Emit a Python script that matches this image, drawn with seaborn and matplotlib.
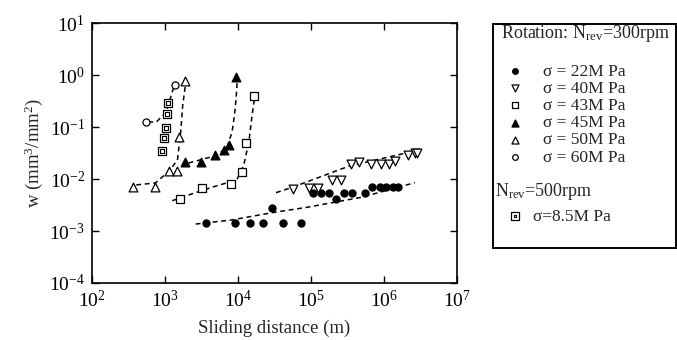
import matplotlib
matplotlib.use("Agg")
import matplotlib.pyplot as plt
import seaborn as sns
import pandas as pd
from matplotlib.patches import Rectangle
from matplotlib.ticker import NullLocator, LogLocator
from matplotlib.legend_handler import HandlerTuple

# ---------------- data ----------------
# Rotation N_rev = 300 rpm
s22_x = [3640, 9180, 14600, 22000, 29500, 40700, 74000, 105000, 137000, 174000,
         220000, 281000, 361000, 541000, 690000, 869000, 1080000, 1330000, 1550000]
s22_y = [1.4e-3, 1.4e-3, 1.4e-3, 1.4e-3, 2.8e-3, 1.4e-3, 1.4e-3, 5.5e-3, 5.5e-3, 5.5e-3,
         4.1e-3, 5.5e-3, 5.5e-3, 5.5e-3, 6.9e-3, 6.9e-3, 6.9e-3, 6.9e-3, 6.9e-3]

s40_x = [56900, 92500, 123000, 194000, 258000, 354000, 451000, 668000, 897000,
         1170000, 1430000, 2130000, 2640000, 2790000]
s40_y = [6.3e-3, 6.6e-3, 6.6e-3, 9.6e-3, 9.6e-3, 1.94e-2, 2.15e-2, 1.94e-2, 1.94e-2,
         1.94e-2, 2.2e-2, 2.9e-2, 3.1e-2, 3.2e-2]

s43_x = [1580, 3170, 8090, 11300, 12700, 16500]
s43_y = [4.07e-3, 6.7e-3, 8.0e-3, 1.36e-2, 4.9e-2, 0.40]

s45_x = [1850, 3080, 4790, 6370, 7640, 9530]
s45_y = [2.09e-2, 2.09e-2, 2.93e-2, 3.56e-2, 4.5e-2, 0.90]

s50_x = [367, 738, 1140, 1480, 1550, 1880]
s50_y = [7.0e-3, 7.0e-3, 1.41e-2, 1.41e-2, 6.5e-2, 0.78]

s60_x = [542, 1380]
s60_y = [0.123, 0.64]

# N_rev = 500 rpm
s85_x = [920, 973, 1023, 1054, 1089]
s85_y = [0.0345, 0.061, 0.097, 0.175, 0.286]

# dashed trend curves
f22_x = [2630, 8220, 29200, 88700, 491000, 2640000]
f22_y = [1.36e-3, 1.63e-3, 2.25e-3, 2.86e-3, 4.45e-3, 8.5e-3]
f40_x = [33200, 55100, 336000, 2640000]
f40_y = [5.46e-3, 6.9e-3, 1.78e-2, 3.45e-2]
f43_x = [1260, 2460, 4650, 9610, 12000, 14100, 15600, 17300]
f43_y = [3.83e-3, 5.31e-3, 7.1e-3, 9.6e-3, 1.86e-2, 5.2e-2, 0.17, 0.47]
f45_x = [2100, 4790, 7020, 8300, 8950, 9420, 9720]
f45_y = [2.03e-2, 2.77e-2, 3.94e-2, 8.1e-2, 0.17, 0.356, 0.70]
f50_x = [404, 738, 1150, 1480, 1640, 1750, 1890]
f50_y = [7.7e-3, 8.4e-3, 1.43e-2, 2.32e-2, 8.0e-2, 0.265, 0.59]
f60_x = [590, 762, 1045, 1220, 1330]
f60_y = [0.125, 0.125, 0.194, 0.41, 0.61]

labels_300 = ["σ = 22M Pa", "σ = 40M Pa", "σ = 43M Pa",
              "σ = 45M Pa", "σ = 50M Pa", "σ = 60M Pa"]
label_500 = "σ=8.5M Pa"
title_300 = "Rotation: N$_{\\mathrm{rev}}$=300rpm"
title_500 = "N$_{\\mathrm{rev}}$=500rpm"
x_label = "Sliding distance (m)"
y_label = "w (mm$^{3}$/mm$^{2}$)"

# ---------------- style ----------------
sns.set_style("ticks")
plt.rcParams["font.family"] = ["Liberation Serif", "DejaVu Serif"]
plt.rcParams["mathtext.fontset"] = "custom"
plt.rcParams["mathtext.rm"] = "Liberation Serif"
plt.rcParams["mathtext.it"] = "Liberation Serif:italic"
plt.rcParams["mathtext.default"] = "regular"

W, H = 677, 340
fig = plt.figure(figsize=(W / 100, H / 100), dpi=100)
ax = fig.add_axes([92 / W, 1 - 283 / H, (457 - 92) / W, (283 - 23) / H])
ax.set_xscale("log")
ax.set_yscale("log")

dash = (0, (3.2, 2.4))
for fx, fy in [(f22_x, f22_y), (f40_x, f40_y), (f43_x, f43_y),
               (f45_x, f45_y), (f50_x, f50_y), (f60_x, f60_y)]:
    sns.lineplot(x=fx, y=fy, ax=ax, color="black", lw=1.1, sort=False,
                 estimator=None, linestyle=dash, zorder=2)

specs = [
    (s22_x, s22_y, "o", 26, "black"),
    (s40_x, s40_y, "v", 40, "white"),
    (s43_x, s43_y, "s", 26, "white"),
    (s45_x, s45_y, "^", 40, "black"),
    (s50_x, s50_y, "^", 40, "white"),
    (s60_x, s60_y, "o", 26, "white"),
]
handles = []
for (sx, sy, m, s, fc), lab in zip(specs, labels_300):
    sns.scatterplot(x=sx, y=sy, ax=ax, marker=m, s=s, color=fc,
                    edgecolor="black", linewidth=0.9, zorder=3)
    handles.append(ax.collections[-1])

sns.scatterplot(x=s85_x, y=s85_y, ax=ax, marker="s", s=40, color="white",
                edgecolor="black", linewidth=0.9, zorder=3)
outer = ax.collections[-1]
sns.scatterplot(x=s85_x, y=s85_y, ax=ax, marker="s", s=7, color="white",
                edgecolor="black", linewidth=0.8, zorder=4)
inner = ax.collections[-1]

ax.set_xlim(1e2, 1e7)
ax.set_ylim(1e-4, 1e1)
ax.xaxis.set_major_locator(LogLocator(base=10, numticks=10))
ax.yaxis.set_major_locator(LogLocator(base=10, numticks=10))
ax.xaxis.set_minor_locator(NullLocator())
ax.yaxis.set_minor_locator(NullLocator())
for sp in ax.spines.values():
    sp.set_visible(True)
    sp.set_linewidth(1.2)
    sp.set_color("black")
ax.tick_params(which="major", direction="in", top=True, right=True,
               length=5, width=1.0, labelsize=14, colors="black")
ax.tick_params(axis="x", pad=5)
ax.tick_params(axis="y", pad=5)

ax.set_xlabel(x_label, fontsize=13.5)
ax.set_ylabel(y_label, fontsize=13.5)
ax.xaxis.set_label_coords(0.5, -0.142)
ax.yaxis.set_label_coords(-0.13, 0.5)

# ---------------- legend ----------------
fs = 12.5
fig.add_artist(Rectangle((493 / W, 1 - 248 / H), (676 - 493) / W, (248 - 24) / H,
                         transform=fig.transFigure, fill=False, lw=1.4,
                         ec="black"))
fig.text(501 / W, 1 - 34 / H, title_300, fontsize=13, ha="left", va="center")
leg1 = fig.legend(handles, labels_300, loc="upper left",
                  bbox_to_anchor=(503 / W, 1 - 63.5 / H),
                  bbox_transform=fig.transFigure, frameon=False, fontsize=fs,
                  borderpad=0, borderaxespad=0, handlelength=1.38,
                  handletextpad=0.92, labelspacing=0.06, markerscale=0.8,
                  scatterpoints=1)
fig.text(495 / W, 1 - 192 / H, title_500, fontsize=13, ha="left", va="center")
leg2 = fig.legend([(outer, inner)], [label_500], loc="upper left",
                  bbox_to_anchor=(503 / W, 1 - 208.5 / H),
                  bbox_transform=fig.transFigure, frameon=False, fontsize=fs,
                  borderpad=0, borderaxespad=0, handlelength=1.38,
                  handletextpad=0.36, markerscale=0.8, scatterpoints=1,
                  handler_map={tuple: HandlerTuple(ndivide=1, pad=0)})

fig.savefig("out.png", dpi=100)
